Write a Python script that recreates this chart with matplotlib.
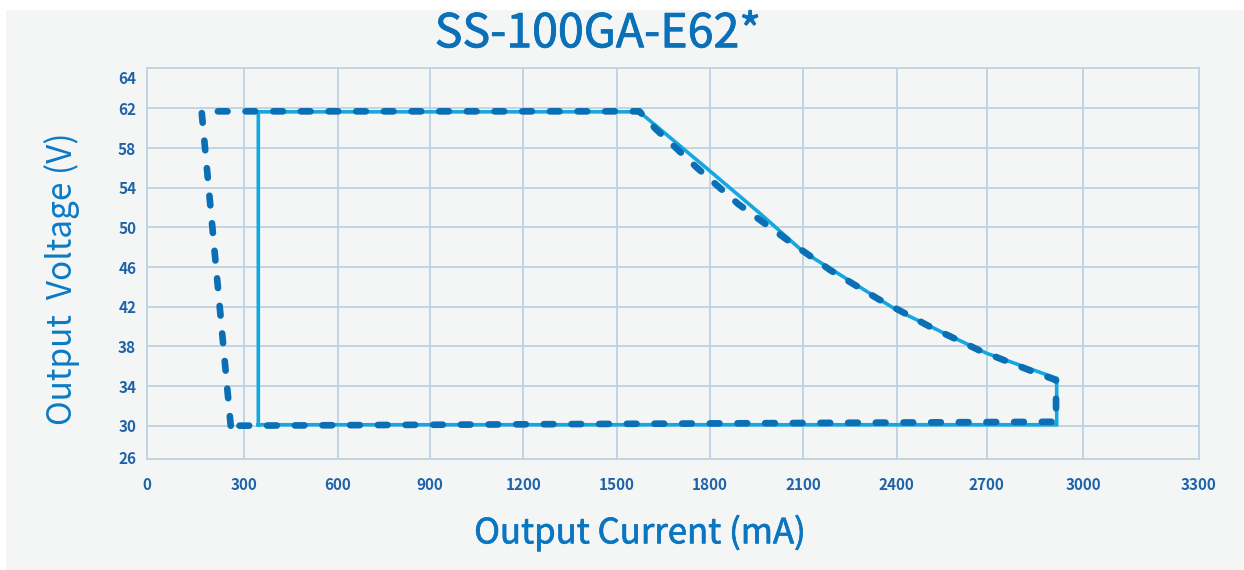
import numpy as np
import matplotlib
matplotlib.use("Agg")
import matplotlib.pyplot as plt
from matplotlib.patches import Rectangle
import matplotlib.patheffects as pe

# ---- data ----
x_ticks = [0, 300, 600, 900, 1200, 1500, 1800, 2100, 2400, 2700, 3000, 3300]
y_ticks = [26, 30, 34, 38, 42, 46, 50, 54, 58, 62, 64]

# solid outline (mA, V)
solid_current = [345, 345, 1573, 1800, 1961, 2100, 2400, 2550, 2700, 2918, 2918, 345]
solid_voltage = [30.1, 61.65, 61.65, 55.68, 51.4, 47.54, 41.66, 39.45, 37.3, 34.78, 30.1, 30.1]

# dashed outline (mA, V)
dash_current = [258, 168, 1573, 1623, 1757, 1891, 2041, 2186, 2341, 2511, 2678, 2845, 2916, 2916, 258]
dash_voltage = [30.0, 61.7, 61.7, 60.0, 56.05, 52.35, 48.9, 45.7, 42.77, 39.98, 37.56, 35.44, 34.6, 30.4, 30.0]

title = "SS-100GA-E62*"
x_label = "Output Current (mA)"
y_label = "Output  Voltage (V)"

FONT = ["Noto Sans CJK SC", "DejaVu Sans"]

# ---- non-uniform axis scales as drawn in the reference ----
x_pix = np.array([147.3, 244.3, 337.7, 430, 523.3, 616.7, 710, 803.3, 896.7, 986.7, 1083, 1199])
y_pix = -np.array([457.0, 425.7, 386.0, 346.3, 306.7, 267.0, 227.3, 187.7, 148.0, 108.3, 77.0])


def piecewise(vals, pix):
    vals = np.asarray(vals, float)
    pix = np.asarray(pix, float)
    s0 = (pix[1] - pix[0]) / (vals[1] - vals[0])
    s1 = (pix[-1] - pix[-2]) / (vals[-1] - vals[-2])

    def fwd(v):
        v = np.asarray(v, float)
        out = np.interp(v, vals, pix)
        out = np.where(v < vals[0], pix[0] + (v - vals[0]) * s0, out)
        out = np.where(v > vals[-1], pix[-1] + (v - vals[-1]) * s1, out)
        return out

    def inv(p):
        p = np.asarray(p, float)
        out = np.interp(p, pix, vals)
        out = np.where(p < pix[0], vals[0] + (p - pix[0]) / s0, out)
        out = np.where(p > pix[-1], vals[-1] + (p - pix[-1]) / s1, out)
        return out
    return fwd, inv


W, H = 1244, 570
fig = plt.figure(figsize=(W / 100, H / 100), dpi=100, facecolor="white")
fig.patches.append(Rectangle((6 / W, 0), 1 - 6 / W, 1 - 9.5 / H, transform=fig.transFigure,
                             facecolor="#f4f6f6", edgecolor="none", zorder=-10))

left, right, top, bottom = 147.3, 1199, 68.3, 459.3
ax = fig.add_axes([left / W, 1 - bottom / H, (right - left) / W, (bottom - top) / H])
ax.set_facecolor("#f4f6f6")

ax.set_xscale("function", functions=piecewise(x_ticks, x_pix))
ax.set_yscale("function", functions=piecewise(y_ticks, y_pix))
ax.set_xlim(0, 3300)
ax.set_ylim(25.71, 64.56)

grid_c = "#bcd2e4"
for v in x_ticks[1:-1]:
    ax.axvline(v, color=grid_c, lw=1.3, zorder=1)
for v in y_ticks[1:-1]:
    ax.axhline(v, color=grid_c, lw=1.3, zorder=1)
for s in ax.spines.values():
    s.set_color(grid_c)
    s.set_linewidth(1.3)

ax.plot(solid_current, solid_voltage, color="#14a8e2", lw=2.6, solid_joinstyle="miter", zorder=3)
ax.plot(dash_current, dash_voltage, color="#0b6fb6", lw=4.8, linestyle=(0, (1.45, 2.7)),
        dash_capstyle="round", zorder=4)

tick_c = "#1f62aa"
ax.set_xticks(x_ticks)
ax.set_xticklabels([str(v) for v in x_ticks])
ax.set_yticks(y_ticks)
ax.set_yticklabels([str(v) for v in y_ticks])
ax.minorticks_off()
ax.tick_params(axis="both", length=0, colors=tick_c, labelsize=11)
ax.tick_params(axis="x", pad=13)
ax.tick_params(axis="y", pad=8)
for lab in ax.get_xticklabels() + ax.get_yticklabels():
    lab.set_fontfamily(FONT)
    lab.set_fontweight("bold")

title_c = "#0a70b8"
fig.text(598 / W, 1 - 34 / H, title, ha="center", va="center", fontsize=33.5,
         color=title_c, fontfamily=FONT,
         path_effects=[pe.withStroke(linewidth=0.6, foreground=title_c)])
xl_c = "#0a76bf"
fig.text(640 / W, 1 - 543.3 / H, x_label, ha="center", va="baseline", fontsize=25,
         color=xl_c, fontfamily=FONT,
         path_effects=[pe.withStroke(linewidth=0.5, foreground=xl_c)])
fig.text(62 / W, 1 - 279 / H, y_label, ha="center", va="center", rotation=90, fontsize=24,
         color="#0b7bc4", fontfamily=FONT)

fig.savefig("out.png", dpi=100, facecolor=fig.get_facecolor())
